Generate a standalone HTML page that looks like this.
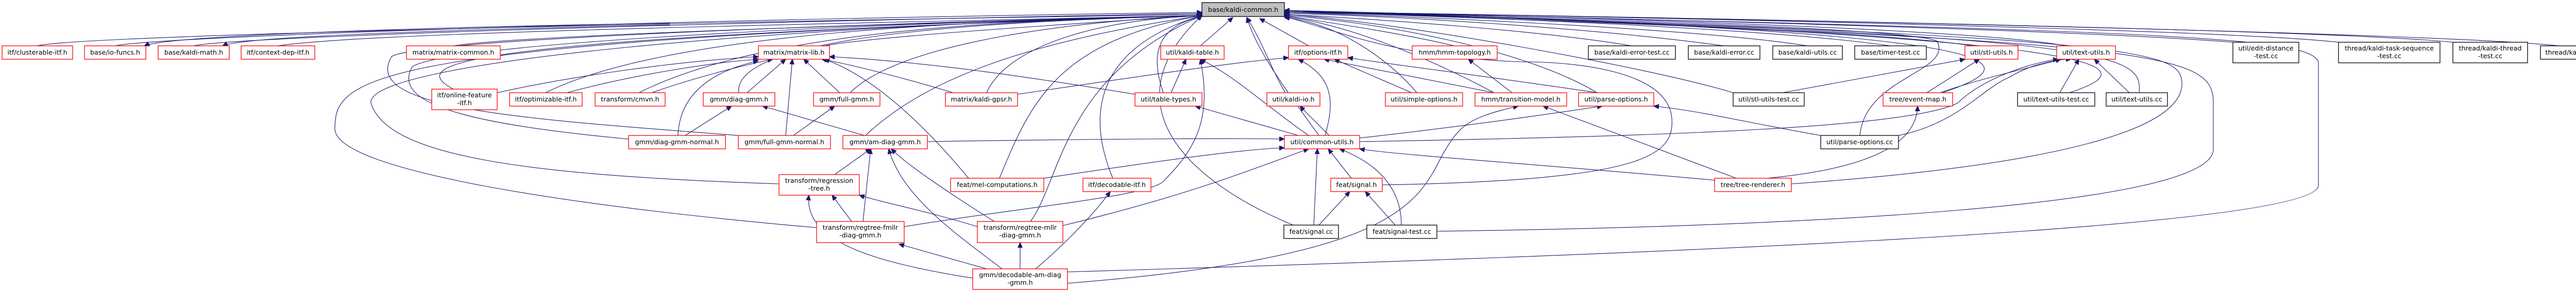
<!DOCTYPE html>
<html><head><meta charset="utf-8"><style>
html,body{margin:0;padding:0;background:#fff;width:5093px;height:565px;overflow:hidden}
svg{display:block}
text{font-family:"DejaVu Sans","Liberation Sans",sans-serif;font-size:12.7px;fill:#000;text-anchor:middle}
.r{fill:#fff;stroke:#ff0000;stroke-width:1.3}
.b{fill:#fff;stroke:#000;stroke-width:1.3}
path{fill:none;stroke:#191970;stroke-width:1.1}
</style></head><body>
<svg width="5093" height="565" viewBox="0 0 5093 565" xmlns="http://www.w3.org/2000/svg">
<defs><marker id="a" markerUnits="userSpaceOnUse" markerWidth="11" markerHeight="9" refX="10" refY="4.5" orient="auto"><path d="M0,0 L10,4.5 L0,9 z" style="fill:#191970;stroke:#191970"/></marker></defs>
<g marker-end="url(#a)">
<path d="M72,89 C150,70 1200,45 2333,28"/>
<path d="M223,89 C300,72 1200,40 2333,24"/>
<path d="M1300,45 C700,55 320,72 280,89"/>
<path d="M376,89 C450,72 1300,45 2333,26"/>
<path d="M1300,48 C800,60 470,72 432,89"/>
<path d="M539,89 C700,65 1400,50 2333,30"/>
<path d="M880,89 C1000,70 1600,50 2333,30"/>
<path d="M1600,89 C1700,70 2100,45 2333,30"/>
<path d="M2330,89 L2393,34"/>
<path d="M2540,89 L2445,36"/>
<path d="M2823,89 C2700,60 2550,40 2493,30"/>
<path d="M3167,89 C3000,60 2650,35 2493,28"/>
<path d="M3346,89 C3100,55 2700,30 2493,26"/>
<path d="M3508,89 C3300,55 2700,30 2493,24"/>
<path d="M3669,89 C3400,50 2700,28 2493,22"/>
<path d="M3830,89 C3600,55 2800,30 2493,20"/>
<path d="M4010,89 C3800,50 2800,28 2493,20"/>
<path d="M4334,82 C4000,55 2900,30 2493,22"/>
<path d="M4539,82 C4300,55 3000,30 2493,22"/>
<path d="M4761,82 C4500,55 3000,30 2493,22"/>
<path d="M4967,89 C4700,60 3000,30 2493,22"/>
<path d="M880,173 C780,120 900,75 2333,30"/>
<path d="M1059,180 C1300,60 1900,40 2333,30"/>
<path d="M1240,180 C1500,50 2000,40 2333,30"/>
<path d="M1434,180 C1420,60 2000,40 2333,30"/>
<path d="M1650,180 C1750,80 2100,40 2333,30"/>
<path d="M1915,180 C1950,100 2100,40 2333,30"/>
<path d="M2258,180 C2230,100 2250,50 2333,32"/>
<path d="M2495,180 C2470,140 2450,80 2420,34"/>
<path d="M2750,180 C2700,120 2600,45 2493,34"/>
<path d="M2900,180 C2750,100 2600,45 2493,32"/>
<path d="M3100,180 C2950,90 2650,40 2493,30"/>
<path d="M3364,180 C3200,130 2700,40 2493,28"/>
<path d="M4017,180 C4200,120 4050,70 2493,20"/>
<path d="M4152,180 C4160,100 4100,70 2493,20"/>
<path d="M3770,180 C3950,120 3950,60 2493,22"/>
<path d="M3610,263 C3620,150 3790,140 3760,80 C3700,50 2800,30 2493,24"/>
<path d="M2560,263 C2500,180 2440,100 2420,34"/>
<path d="M1220,270 C900,240 760,200 800,130 C850,90 1500,50 2333,30"/>
<path d="M1433,263 C1000,230 700,210 760,110 C800,80 1500,50 2333,30"/>
<path d="M1680,263 C1800,150 2000,80 2333,30"/>
<path d="M1940,346 C2000,200 2050,80 2333,30"/>
<path d="M2160,346 C2120,250 2100,100 2333,30"/>
<path d="M3477,357 C4000,320 4240,250 4235,160 C4230,100 4180,70 2493,22"/>
<path d="M1512,357 C1000,340 750,300 720,200 C710,120 1500,50 2333,30"/>
<path d="M1585,442 C1100,400 650,330 650,250 C650,150 700,80 2333,30"/>
<path d="M2000,430 C2060,350 2060,150 2333,30"/>
<path d="M2510,437 C2300,350 2150,200 2333,30"/>
<path d="M2789,449 C3500,440 4296,400 4296,290 L4296,200 C4296,100 4200,80 2493,22"/>
<path d="M2072,528 C3000,500 4500,450 4500,360 L4500,120 C4480,70 4200,60 2493,22"/>
<path d="M2683,359 C3200,350 3250,300 3245,230 C3240,150 3100,120 2950,120 C2700,110 2600,60 2493,32"/>
<path d="M965,180 C1100,150 1300,120 1472,110"/>
<path d="M1100,180 C1250,140 1400,120 1472,115"/>
<path d="M1265,180 C1350,150 1450,125 1500,115"/>
<path d="M1450,180 L1525,115"/>
<path d="M1525,263 L1538,115"/>
<path d="M1630,180 L1560,115"/>
<path d="M1316,263 C1320,160 1420,130 1472,118"/>
<path d="M1850,180 C1750,150 1650,125 1595,115"/>
<path d="M2203,183 C2000,150 1800,120 1610,110"/>
<path d="M1880,346 C1800,250 1700,150 1600,115"/>
<path d="M1330,263 L1420,206"/>
<path d="M1678,263 L1480,206"/>
<path d="M1540,263 L1620,206"/>
<path d="M1620,339 L1690,289"/>
<path d="M1675,430 L1690,289"/>
<path d="M1930,430 C1850,380 1760,320 1730,289"/>
<path d="M1945,522 C1850,450 1750,380 1725,289"/>
<path d="M1800,275 C2100,270 2400,268 2493,270"/>
<path d="M1653,430 L1615,379"/>
<path d="M1897,440 C1800,410 1700,390 1668,379"/>
<path d="M1888,540 C1700,510 1560,470 1570,379"/>
<path d="M1915,522 L1745,474"/>
<path d="M1980,522 L1980,471"/>
<path d="M2010,522 C2060,480 2120,420 2155,372"/>
<path d="M1755,440 C2000,400 2240,380 2260,350 C2330,280 2350,220 2330,115"/>
<path d="M2063,438 C2300,380 2400,340 2540,289"/>
<path d="M2026,346 C2200,320 2400,290 2493,287"/>
<path d="M2273,180 L2302,115"/>
<path d="M2540,263 C2450,200 2400,150 2330,115"/>
<path d="M2520,263 L2320,206"/>
<path d="M2580,263 L2523,206"/>
<path d="M2572,263 C2590,200 2590,150 2520,115"/>
<path d="M2639,268 C2800,250 2950,230 3110,206"/>
<path d="M3534,263 C3400,240 3300,215 3210,206"/>
<path d="M3685,263 C3800,240 3850,170 3900,150 C3950,120 4000,115 4020,115"/>
<path d="M2639,275 C3200,265 3700,250 3800,200 C3850,150 3950,120 3995,115"/>
<path d="M1975,183 C2200,150 2400,120 2501,112"/>
<path d="M2740,180 L2590,115"/>
<path d="M2900,180 L2570,115"/>
<path d="M3100,180 C2900,150 2700,125 2616,112"/>
<path d="M2935,180 L2850,115"/>
<path d="M2072,550 C2700,500 2750,400 2800,300 C2830,250 2840,230 2947,206"/>
<path d="M3370,346 L2995,206"/>
<path d="M3330,350 C3000,320 2700,300 2639,289"/>
<path d="M3430,346 C3600,330 3720,290 3722,206"/>
<path d="M2623,346 L2578,289"/>
<path d="M2550,437 L2557,289"/>
<path d="M2720,437 C2720,370 2680,320 2600,289"/>
<path d="M2560,437 L2620,372"/>
<path d="M2708,437 L2650,372"/>
<path d="M3460,180 L3814,115"/>
<path d="M3740,180 L3842,115"/>
<path d="M3766,180 C3850,150 3950,130 4000,115"/>
<path d="M3998,180 L4035,115"/>
<path d="M4133,180 L4065,115"/>
</g>
<!-- nodes -->
<rect x="2333" y="5" width="160" height="27" style="fill:#bfbfbf;stroke:#000;stroke-width:1.3"/><text x="2413" y="23">base/kaldi-common.h</text>
<g>
<rect class="r" x="4" y="89" width="137" height="26"/><text x="72.5" y="106">itf/clusterable-itf.h</text>
<rect class="r" x="164" y="89" width="119" height="26"/><text x="223.5" y="106">base/io-funcs.h</text>
<rect class="r" x="307" y="89" width="138" height="26"/><text x="376" y="106">base/kaldi-math.h</text>
<rect class="r" x="468" y="89" width="143" height="26"/><text x="539.5" y="106">itf/context-dep-itf.h</text>
<rect class="r" x="789" y="89" width="182" height="26"/><text x="880" y="106">matrix/matrix-common.h</text>
<rect class="r" x="1472" y="89" width="138" height="26"/><text x="1541" y="106">matrix/matrix-lib.h</text>
<rect class="r" x="2253" y="89" width="123" height="26"/><text x="2314.5" y="106">util/kaldi-table.h</text>
<rect class="r" x="2501" y="89" width="115" height="26"/><text x="2558.5" y="106">itf/options-itf.h</text>
<rect class="r" x="2741" y="89" width="165" height="26"/><text x="2823.5" y="106">hmm/hmm-topology.h</text>
<rect class="b" x="3083" y="89" width="169" height="26"/><text x="3167.5" y="106">base/kaldi-error-test.cc</text>
<rect class="b" x="3277" y="89" width="139" height="26"/><text x="3346.5" y="106">base/kaldi-error.cc</text>
<rect class="b" x="3441" y="89" width="135" height="26"/><text x="3508.5" y="106">base/kaldi-utils.cc</text>
<rect class="b" x="3600" y="89" width="139" height="26"/><text x="3669.5" y="106">base/timer-test.cc</text>
<rect class="r" x="3814" y="89" width="103" height="26"/><text x="3865.5" y="106">util/stl-utils.h</text>
<rect class="r" x="3992" y="89" width="114" height="26"/><text x="4049" y="106">util/text-utils.h</text>
<rect class="b" x="4334" y="82" width="128" height="40"/><text x="4398" y="98">util/edit-distance</text><text x="4398" y="113">-test.cc</text>
<rect class="b" x="4539" y="82" width="197" height="40"/><text x="4637.5" y="98">thread/kaldi-task-sequence</text><text x="4637.5" y="113">-test.cc</text>
<rect class="b" x="4761" y="82" width="145" height="40"/><text x="4833.5" y="98">thread/kaldi-thread</text><text x="4833.5" y="113">-test.cc</text>
<rect class="b" x="4931" y="89" width="159" height="26"/><text x="5010.5" y="106">thread/kaldi-thread.cc</text>

<rect class="r" x="838" y="173" width="127" height="40"/><text x="901.5" y="189">itf/online-feature</text><text x="901.5" y="204">-itf.h</text>
<rect class="r" x="989" y="180" width="141" height="26"/><text x="1059.5" y="197">itf/optimizable-itf.h</text>
<rect class="r" x="1155" y="180" width="136" height="26"/><text x="1223" y="197">transform/cmvn.h</text>
<rect class="r" x="1365" y="180" width="139" height="26"/><text x="1434.5" y="197">gmm/diag-gmm.h</text>
<rect class="r" x="1579" y="180" width="129" height="26"/><text x="1643.5" y="197">gmm/full-gmm.h</text>
<rect class="r" x="1835" y="180" width="140" height="26"/><text x="1905" y="197">matrix/kaldi-gpsr.h</text>
<rect class="r" x="2203" y="180" width="130" height="26"/><text x="2268" y="197">util/table-types.h</text>
<rect class="r" x="2459" y="180" width="103" height="26"/><text x="2510.5" y="197">util/kaldi-io.h</text>
<rect class="r" x="2689" y="180" width="150" height="26"/><text x="2764" y="197">util/simple-options.h</text>
<rect class="r" x="2863" y="180" width="178" height="26"/><text x="2952" y="197">hmm/transition-model.h</text>
<rect class="r" x="3064" y="180" width="146" height="26"/><text x="3137" y="197">util/parse-options.h</text>
<rect class="b" x="3364" y="180" width="138" height="26"/><text x="3433" y="197">util/stl-utils-test.cc</text>
<rect class="r" x="3655" y="180" width="135" height="26"/><text x="3722.5" y="197">tree/event-map.h</text>
<rect class="b" x="3916" y="180" width="150" height="26"/><text x="3991" y="197">util/text-utils-test.cc</text>
<rect class="b" x="4088" y="180" width="119" height="26"/><text x="4147.5" y="197">util/text-utils.cc</text>

<rect class="r" x="1220" y="263" width="188" height="26"/><text x="1314" y="280">gmm/diag-gmm-normal.h</text>
<rect class="r" x="1433" y="263" width="179" height="26"/><text x="1522.5" y="280">gmm/full-gmm-normal.h</text>
<rect class="r" x="1636" y="263" width="164" height="26"/><text x="1718" y="280">gmm/am-diag-gmm.h</text>
<rect class="r" x="2493" y="263" width="146" height="26"/><text x="2566" y="280">util/common-utils.h</text>
<rect class="b" x="3534" y="263" width="151" height="26"/><text x="3609.5" y="280">util/parse-options.cc</text>

<rect class="r" x="1512" y="339" width="156" height="40"/><text x="1590" y="355">transform/regression</text><text x="1590" y="370">-tree.h</text>
<rect class="r" x="1845" y="346" width="181" height="26"/><text x="1935.5" y="363">feat/mel-computations.h</text>
<rect class="r" x="2102" y="346" width="132" height="26"/><text x="2168" y="363">itf/decodable-itf.h</text>
<rect class="r" x="2583" y="346" width="100" height="26"/><text x="2633" y="363">feat/signal.h</text>
<rect class="r" x="3328" y="346" width="149" height="26"/><text x="3402.5" y="363">tree/tree-renderer.h</text>

<rect class="r" x="1585" y="430" width="170" height="41"/><text x="1670" y="446">transform/regtree-fmllr</text><text x="1670" y="461">-diag-gmm.h</text>
<rect class="r" x="1897" y="430" width="166" height="41"/><text x="1980" y="446">transform/regtree-mllr</text><text x="1980" y="461">-diag-gmm.h</text>
<rect class="b" x="2492" y="437" width="106" height="26"/><text x="2545" y="454">feat/signal.cc</text>
<rect class="b" x="2653" y="437" width="136" height="26"/><text x="2721" y="454">feat/signal-test.cc</text>

<rect class="r" x="1888" y="522" width="184" height="40"/><text x="1980" y="538">gmm/decodable-am-diag</text><text x="1980" y="553">-gmm.h</text>
</g>
</svg>
</body></html>
